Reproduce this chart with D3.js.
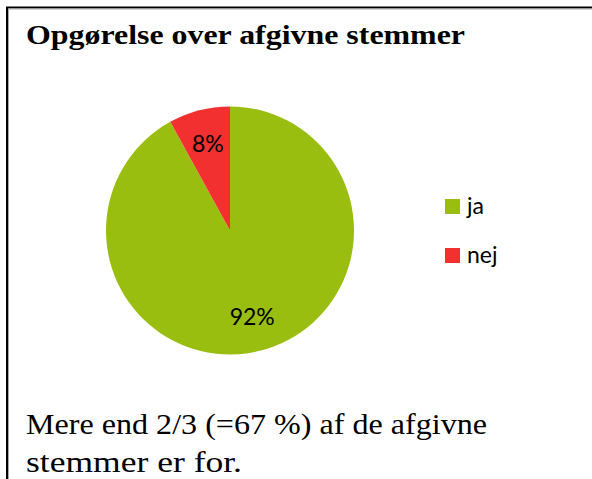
<!DOCTYPE html>
<html><head><meta charset="utf-8">
<script src="https://cdn.jsdelivr.net/npm/d3@7"></script>
<style>html,body{margin:0;padding:0;background:#fff;}svg{display:block;}</style>
</head><body>
<svg id="c" width="592" height="479"></svg>
<script>
const title = "Opgørelse over afgivne stemmer";
const categories = ["ja", "nej"];
const values = [92, 8];
const colors = ["#99BE10", "#F2302F"];
const noteLines = ["Mere end 2/3 (=67 %) af de afgivne", "stemmer er for."];

const svg = d3.select("#c");
// frame (extends past the right and bottom edges)
svg.append("path").attr("d","M7,600 V7.5 H700").attr("fill","none").attr("stroke","#000").attr("stroke-width",2);
svg.append("path").attr("d","M8.5,600 V9 H700").attr("fill","none").attr("stroke","#aaa").attr("stroke-width",1);

svg.append("text").attr("x",26).attr("y",44)
  .attr("font-family","'Liberation Serif','Times New Roman',serif")
  .attr("font-weight","bold").attr("font-size",27).attr("fill","#000")
  .attr("textLength",439).attr("lengthAdjust","spacingAndGlyphs").text(title);

const cx = 230, cy = 230.5, r = 124;
const pie = d3.pie().sort(null).value(d=>d);
const arcs = pie(values);
const arc = d3.arc().innerRadius(0).outerRadius(r);
const g = svg.append("g").attr("transform",`translate(${cx},${cy})`);
g.selectAll("path").data(arcs).join("path").attr("d",arc).attr("fill",(d,i)=>colors[i]);
const labelArc = d3.arc().innerRadius(r*0.72).outerRadius(r*0.72);
const total = d3.sum(values);
g.selectAll("text").data(arcs).join("text")
  .attr("transform",d=>{const c=labelArc.centroid(d);return `translate(${c[0]},${c[1]})`;})
  .attr("text-anchor","middle").attr("dy","0.35em")
  .attr("font-family","Lato, 'Open Sans', sans-serif").attr("font-size",23).attr("fill","#000")
  .text(d=>Math.round(d.value/total*100)+"%");

const leg = svg.append("g").attr("transform","translate(445,199)");
const li = leg.selectAll("g").data(categories).join("g").attr("transform",(d,i)=>`translate(0,${i*49})`);
li.append("rect").attr("width",15).attr("height",15).attr("fill",(d,i)=>colors[i]);
li.append("text").attr("x",22).attr("y",15).attr("font-family","Lato, 'Open Sans', sans-serif")
  .attr("font-size",23).attr("fill","#000").text(d=>d);

const noteLen = [461, 216];
svg.append("g").selectAll("text").data(noteLines).join("text")
  .attr("x",26).attr("y",(d,i)=>434+i*38)
  .attr("font-family","'Liberation Serif','Times New Roman',serif")
  .attr("font-size",30).attr("fill","#000")
  .attr("textLength",(d,i)=>noteLen[i]).attr("lengthAdjust","spacingAndGlyphs").text(d=>d);
</script>
</body></html>
